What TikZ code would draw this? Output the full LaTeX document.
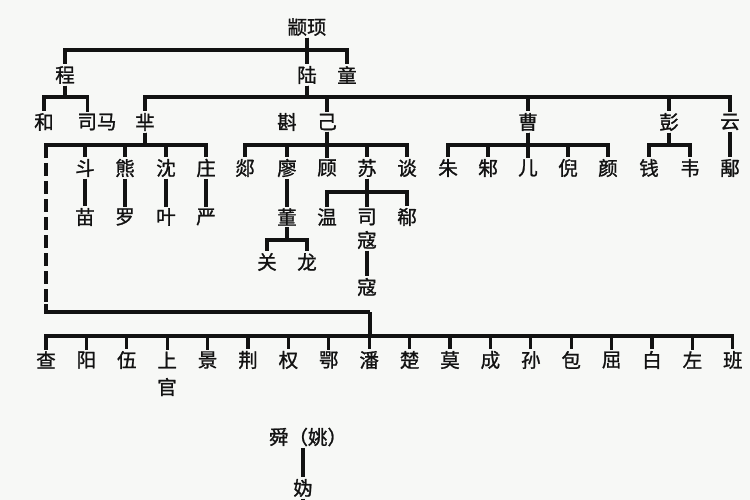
\documentclass[tikz,border=0pt]{standalone}
\usepackage{fontspec}
\newfontfamily\cjk[FakeBold=1.2]{Noto Sans CJK SC}
\definecolor{bg}{RGB}{247,248,246}
\definecolor{ink}{RGB}{18,18,18}
\newcommand\famline[3]{\draw[conn] (#1.south) -- (#1.south |- #2) -| (#3.north);}
\begin{document}
\begin{tikzpicture}[x=1pt,y=-1pt,
  every node/.style={font=\cjk\fontsize{19.5}{21}\selectfont, text=ink, inner sep=1.5pt},
  conn/.style={line width=3.1pt, draw=ink, line join=miter},
  dashconn/.style={conn, dash pattern=on 13pt off 5pt}]
\fill[bg] (0,0) rectangle (750,500);
\useasboundingbox (0,0) rectangle (750,500);
% bar levels
\coordinate (b1) at (0,50);
\coordinate (b2) at (0,97);
\coordinate (b3) at (0,145);
\coordinate (b4) at (0,192);
\coordinate (b4b) at (0,240);
\coordinate (b5) at (0,336);
% generation 0/1
\node (zx) at (307,27) {颛顼};
\node (cheng) at (65,75) {程};
\node (lu) at (307,75) {陆};
\node (tong) at (347,75) {童};
% generation 2
\node (he) at (44,122) {和};
\node (sima) at (97,122) {司马};
\node (mi) at (145,122) {芈};
\node (zhen) at (287,122) {斟};
\node (ji) at (327,122) {己};
\node (cao) at (528,122) {曹};
\node (peng) at (669,122) {彭};
\node (yun) at (730,122) {云};
% generation 3
\node (dou) at (85,168) {斗};
\node (xiong) at (125,168) {熊};
\node (shen) at (166,168) {沈};
\node (zhuang) at (206,168) {庄};
\node (tan1) at (245,168) {郯};
\node (liao) at (287,168) {廖};
\node (gu) at (327,168) {顾};
\node (su) at (367,168) {苏};
\node (tan) at (407,168) {谈};
\node (zhu) at (448,168) {朱};
\node (zhu2) at (488,168) {邾};
\node (er) at (528,168) {儿};
\node (ni) at (568,168) {倪};
\node (yan) at (608,168) {颜};
\node (qian) at (649,168) {钱};
\node (wei) at (690,168) {韦};
\node (yu) at (730,168) {鄅};
% generation 4
\node (miao) at (85,217) {苗};
\node (luo) at (125,217) {罗};
\node (ye) at (166,217) {叶};
\node (yan2) at (206,217) {严};
\node (dong) at (287,217) {董};
\node (wen) at (327,217) {温};
\node (si) at (367,217) {司};
\node (kou1) at (367,240) {寇};
\node (xi) at (407,217) {郗};
\node (guan) at (267,262) {关};
\node (long) at (307,262) {龙};
\node (kou2) at (367,287) {寇};
% bottom row
\foreach \t [count=\i from 0] in {cha/查,yang/阳,wu/伍,shang/上,jing/景,jing2/荆,quan/权,e/鄂,pan/潘,chu/楚,mo/莫,cheng2/成,sun/孙,bao/包,qu/屈,bai/白,zuo/左,ban/班}{
  \pgfmathsetmacro\xx{46+40.4*\i}
  \def\splitname##1/##2\relax{\node (##1) at (\xx,360) {##2};}
  \expandafter\splitname\t\relax
}
\node (guan2) at (167,387) {官};
\node (shun) at (308,437) {舜（姚）};
\node (gui) at (303,488) {妫};
% connectors
\famline{zx}{b1}{cheng}
\famline{zx}{b1}{lu}
\famline{zx}{b1}{tong}
\famline{cheng}{b2}{he}
\draw[conn] (cheng.south) -- (cheng.south |- b2) -| ([xshift=-9.75pt]sima.north);
\foreach \c in {mi,ji,cao,peng,yun}{\famline{lu}{b2}{\c}}
\foreach \c in {dou,xiong,shen,zhuang}{\famline{mi}{b3}{\c}}
\foreach \c in {tan1,liao,gu,su,tan}{\famline{ji}{b3}{\c}}
\foreach \c in {zhu,zhu2,er,ni,yan}{\famline{cao}{b3}{\c}}
\foreach \c in {qian,wei}{\famline{peng}{b3}{\c}}
\famline{yun}{b3}{yu}
\draw[conn] (dou.south) -- (miao.north);
\draw[conn] (xiong.south) -- (luo.north);
\draw[conn] (shen.south) -- (ye.north);
\draw[conn] (zhuang.south) -- (yan2.north);
\draw[conn] (liao.south) -- (dong.north);
\foreach \c in {wen,si,xi}{\famline{su}{b4}{\c}}
\foreach \c in {guan,long}{\famline{dong}{b4b}{\c}}
\draw[conn] (kou1.south) -- (kou2.north);
% dashed link to bottom row
\coordinate (dtop) at (46,145);
\coordinate (dbot) at (46,312);
\coordinate (jn) at (370,312);
\draw[conn] (mi.south) |- (dtop) -- ++(0,8);
\draw[dashconn] (dtop) -- (dbot);
\draw[conn] (dbot) ++(0,-8) -- (dbot) -- (jn);
\foreach \c in {cha,yang,wu,shang,jing,jing2,quan,e,pan,chu,mo,cheng2,sun,bao,qu,bai,zuo,ban}{\draw[conn] (jn) -- (jn |- b5) -| (\c.north);}
\draw[conn] (shun.south -| gui.north) -- (gui.north);
\draw[conn] (gui.south) -- ++(0,10);
\end{tikzpicture}
\end{document}
